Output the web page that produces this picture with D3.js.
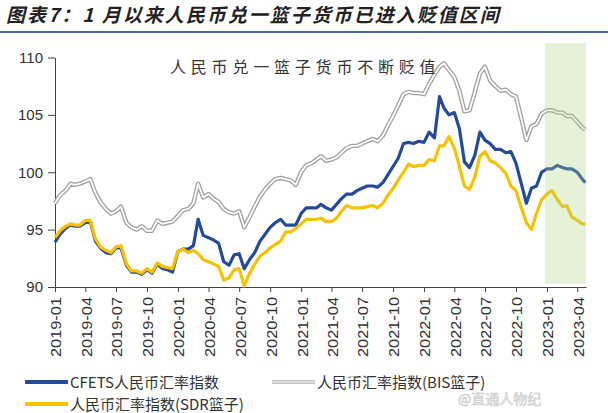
<!DOCTYPE html>
<html><head><meta charset="utf-8">
<script src="https://cdn.jsdelivr.net/npm/d3@7"></script>
<style>body{margin:0;background:#fff;} svg{display:block;}</style>
</head><body><svg id="c" width="608" height="413"></svg>
<script>
// ---- data ----
const dates = ("2019-01-01 2019-01-16 2019-02-01 2019-02-16 2019-03-01 2019-03-16 2019-04-01 2019-04-16 2019-05-01 2019-05-16 " +
"2019-06-01 2019-06-16 2019-07-01 2019-07-16 2019-08-01 2019-08-16 2019-09-01 2019-09-16 2019-10-01 2019-10-16 " +
"2019-11-01 2019-11-16 2019-12-01 2019-12-16 2020-01-01 2020-01-16 2020-02-01 2020-02-16 2020-03-01 2020-03-16 " +
"2020-04-01 2020-04-16 2020-05-01 2020-05-16 2020-06-01 2020-06-16 2020-07-01 2020-07-16 2020-08-01 2020-08-16 " +
"2020-09-01 2020-09-16 2020-10-01 2020-10-16 2020-11-01 2020-11-16 2020-12-01 2020-12-16 2021-01-01 2021-01-16 " +
"2021-02-01 2021-02-16 2021-03-01 2021-03-16 2021-04-01 2021-04-16 2021-05-01 2021-05-16 2021-06-01 2021-06-16 " +
"2021-07-01 2021-07-16 2021-08-01 2021-08-16 2021-09-01 2021-09-16 2021-10-01 2021-10-16 2021-11-01 2021-11-16 " +
"2021-12-01 2021-12-16 2022-01-01 2022-01-16 2022-02-01 2022-02-16 2022-03-01 2022-03-16 2022-04-01 2022-04-16 " +
"2022-05-01 2022-05-16 2022-06-01 2022-06-16 2022-07-01 2022-07-16 2022-08-01 2022-08-16 2022-09-01 2022-09-16 " +
"2022-10-01 2022-10-16 2022-11-01 2022-11-16 2022-12-01 2022-12-16 2023-01-01 2023-01-16 2023-02-01 2023-02-16 " +
"2023-03-01 2023-03-16 2023-04-01 2023-04-16 2023-04-25").split(" ");

const cfets = [
93.9,94.6,95.1,95.4,95.3,95.3,95.6,95.7,94.0,93.4,
93.0,92.9,93.4,93.4,91.9,91.3,91.3,91.1,91.5,91.2,
92.0,91.6,91.5,91.3,93.1,93.3,93.3,93.6,95.9,94.5,
94.3,94.1,93.8,92.2,91.9,92.8,92.9,91.6,92.4,93.0,
94.0,94.6,95.2,95.6,95.9,95.4,95.4,95.4,96.4,96.9,
96.9,96.9,97.2,96.9,96.7,97.2,97.7,98.1,98.1,98.4,
98.6,98.8,98.8,98.7,99.1,99.8,100.5,101.2,102.5,102.6,
102.5,102.7,102.6,103.5,103.0,106.6,105.6,105.0,105.2,103.8,
100.9,100.4,101.5,103.5,102.8,102.5,102.0,102.0,101.7,101.8,
100.8,99.1,97.3,98.6,98.8,100.0,100.3,100.3,100.6,100.4,
100.3,100.3,100.0,99.4,99.1];

const bis = [
97.3,98.0,98.4,99.0,98.9,99.0,99.2,99.4,98.2,97.4,
96.8,96.4,96.6,97.0,95.6,95.2,95.0,95.3,94.9,94.9,
95.8,95.5,95.6,95.7,96.2,96.7,96.8,97.3,99.0,97.8,
98.1,97.7,97.4,96.8,96.5,96.4,96.6,95.2,96.1,97.0,
97.9,98.5,99.0,99.4,99.5,99.4,99.3,98.9,100.0,100.6,
100.8,101.1,101.4,101.0,101.1,101.3,101.7,102.1,102.3,102.3,
102.5,102.7,102.9,102.7,103.2,104.1,104.9,105.8,106.8,107.0,
106.9,106.9,106.8,107.7,108.5,109.2,109.5,108.9,108.3,107.1,
105.3,105.4,107.0,108.6,109.2,108.0,107.5,107.1,107.2,106.8,
106.6,104.8,102.8,104.0,104.2,105.1,105.4,105.4,105.2,105.2,
104.9,104.9,104.4,103.9,103.7];

const sdr = [
94.3,94.9,95.3,95.5,95.4,95.4,95.8,95.8,94.2,93.5,
93.2,93.0,93.5,93.6,92.0,91.4,91.4,91.2,91.6,91.3,
92.1,91.8,91.7,91.6,93.1,93.3,93.0,93.2,92.9,92.4,
92.2,92.0,91.8,90.6,90.8,91.5,91.6,90.1,91.2,92.0,
92.7,93.0,93.4,93.7,94.0,94.8,94.8,95.1,95.5,95.9,
95.9,95.9,96.0,95.7,95.7,96.0,96.6,97.1,96.9,96.9,
96.9,97.0,97.1,96.9,97.3,98.0,98.6,99.3,100.0,100.7,
100.5,100.6,100.6,101.1,101.0,102.3,102.3,103.1,102.1,100.5,
98.8,98.5,99.6,101.4,101.8,101.0,100.8,100.4,99.9,98.8,
98.4,97.0,95.6,95.0,96.4,97.6,98.1,98.4,97.6,97.0,
97.1,96.1,95.8,95.5,95.5];

const xTickLabels = ["2019-01","2019-04","2019-07","2019-10","2020-01","2020-04","2020-07","2020-10",
"2021-01","2021-04","2021-07","2021-10","2022-01","2022-04","2022-07","2022-10","2023-01","2023-04"];
const yTicks = [90,95,100,105,110];
const seriesNames = ["CFETS人民币汇率指数","人民币汇率指数(BIS篮子)","人民币汇率指数(SDR篮子)"];
const shadeRange = ["2022-12-26","2023-04-27"];
const title = "图表7：1 月以来人民币兑一篮子货币已进入贬值区间";
const note = "人民币兑一篮子货币不断贬值";

// ---- drawing ----
const svg = d3.select("#c");
const parse = d3.timeParse("%Y-%m-%d");
const parseM = d3.timeParse("%Y-%m");
const x = d3.scaleTime().domain([parse("2019-01-01"), parse("2023-04-27")]).range([55, 586]);
const y = d3.scaleLinear().domain([90, 110]).range([287, 57.5]);
const latin = "'Liberation Sans', Arial, sans-serif";
const cjk = "'Noto Sans CJK SC', sans-serif";

// title
svg.append("text").attr("x", 6).attr("y", 22).text(title)
  .attr("font-family", cjk).attr("font-size", 19).attr("font-style", "italic")
  .attr("font-weight", 700).attr("fill", "#222").attr("letter-spacing", 2);
svg.append("line").attr("x1", 0).attr("x2", 608).attr("y1", 32).attr("y2", 32)
  .attr("stroke", "#4a6a8c").attr("stroke-width", 2);

// y axis
const gy = svg.append("g").attr("transform", "translate(55,0)")
  .call(d3.axisLeft(y).tickValues(yTicks).tickSize(7).tickSizeOuter(0).tickPadding(5));
gy.select(".domain").attr("stroke", "#444");
gy.selectAll(".tick line").attr("stroke", "#444");
gy.selectAll("text").attr("font-family", latin).attr("font-size", 15).attr("fill", "#333");

// x axis
const gx = svg.append("g").attr("transform", "translate(0,287)")
  .call(d3.axisBottom(x).tickValues(xTickLabels.map(parseM)).tickSize(5).tickSizeOuter(0)
    .tickFormat(d3.timeFormat("%Y-%m")));
gx.select(".domain").attr("stroke", "#444");
gx.selectAll(".tick line").attr("stroke", "#444");
gx.selectAll("text").attr("font-family", latin).attr("font-size", 14).attr("fill", "#333")
  .attr("transform", "rotate(-90)").attr("text-anchor", "end")
  .attr("x", -10).attr("y", 1).attr("dy", "0.35em")
  .attr("textLength", 60).attr("lengthAdjust", "spacingAndGlyphs");

const pts = arr => arr.map((v, i) => [parse(dates[i]), v]);
const line = d3.line().x(d => x(d[0])).y(d => y(d[1]));

// BIS double line
svg.append("path").attr("d", line(pts(bis))).attr("fill", "none")
  .attr("stroke", "#a0a0a0").attr("stroke-width", 4.4).attr("stroke-linejoin", "round");
svg.append("path").attr("d", line(pts(bis))).attr("fill", "none")
  .attr("stroke", "#fff").attr("stroke-width", 1.8).attr("stroke-linejoin", "round");
// CFETS
svg.append("path").attr("d", line(pts(cfets))).attr("fill", "none")
  .attr("stroke", "#244a9a").attr("stroke-width", 3.2).attr("stroke-linejoin", "round");
// SDR
svg.append("path").attr("d", line(pts(sdr))).attr("fill", "none")
  .attr("stroke", "#f7c200").attr("stroke-width", 3.2).attr("stroke-linejoin", "round");

// shaded period
svg.append("rect").attr("x", x(parse(shadeRange[0]))).attr("y", 43)
  .attr("width", x(parse(shadeRange[1])) - x(parse(shadeRange[0]))).attr("height", 241)
  .attr("fill", "rgb(168,212,125)").attr("opacity", 0.3);

// annotation
svg.append("text").attr("x", 170).attr("y", 73).text(note)
  .attr("font-family", cjk).attr("font-size", 16).attr("fill", "#333").attr("letter-spacing", 4.8);

// legend
const leg = [
  {name: seriesNames[0], x: 25, y: 382, c: "#244a9a", dbl: false},
  {name: seriesNames[1], x: 272, y: 382, c: "#c4c4c4", dbl: true},
  {name: seriesNames[2], x: 25, y: 404, c: "#f7c200", dbl: false}
];
leg.forEach(l => {
  svg.append("line").attr("x1", l.x).attr("x2", l.x + 43).attr("y1", l.y).attr("y2", l.y)
    .attr("stroke", l.c).attr("stroke-width", 4);
  if (l.dbl) svg.append("line").attr("x1", l.x).attr("x2", l.x + 43).attr("y1", l.y).attr("y2", l.y)
    .attr("stroke", "#e4e4e4").attr("stroke-width", 1.5);
  svg.append("text").attr("x", l.x + 45).attr("y", l.y + 6).text(l.name)
    .attr("font-family", cjk).attr("font-size", 15).attr("fill", "#333");
});

// watermark
svg.append("text").attr("x", 458).attr("y", 404).text("@直通人物纪")
  .attr("font-family", cjk).attr("font-size", 14).attr("fill", "#d8d8d8")
  .attr("stroke", "#c4c4c4").attr("stroke-width", 0.6).attr("opacity", 0.8);
</script></body></html>
